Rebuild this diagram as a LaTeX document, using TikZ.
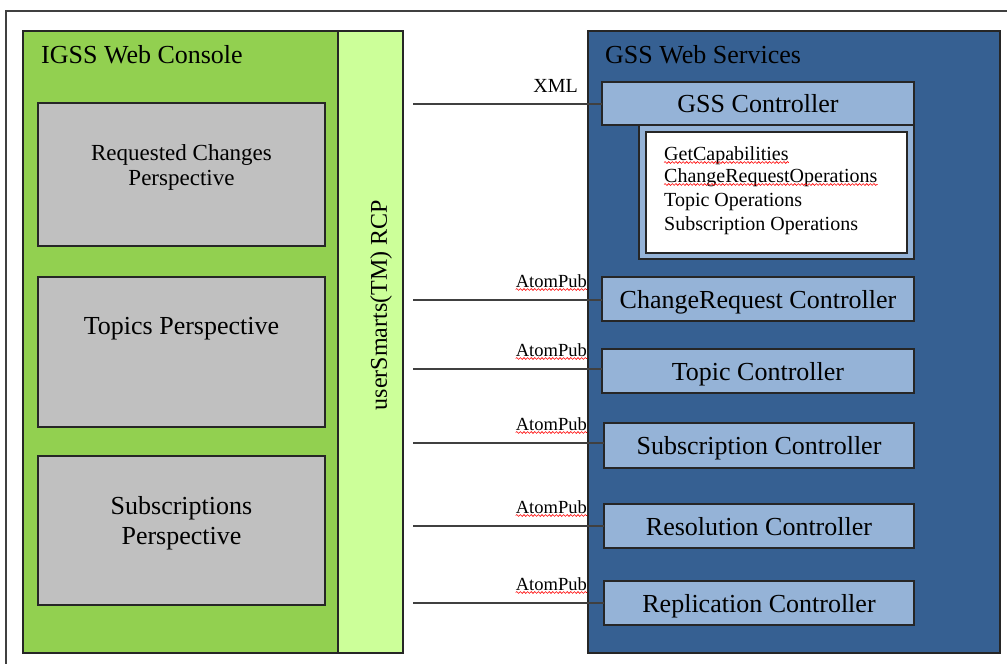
\documentclass[tikz,border=0pt]{standalone}
\usepackage{fontspec}
\setmainfont{Liberation Serif}
\usetikzlibrary{decorations.pathmorphing,calc}
\definecolor{cgreen}{HTML}{92D050}
\definecolor{clgreen}{HTML}{CCFF99}
\definecolor{cgrey}{HTML}{C0C0C0}
\definecolor{cblue}{HTML}{366092}
\definecolor{clblue}{HTML}{95B3D7}
\definecolor{cline}{HTML}{404040}
\newlength\crw
\begin{document}
\begin{tikzpicture}[x=1pt,y=-1pt,
  box/.style={draw=black!85,line width=1.2pt,anchor=north west,inner sep=0pt,outer sep=0pt},
  ctrl/.style={box,fill=clblue,minimum width=312pt,minimum height=44pt},
  persp/.style={box,fill=cgrey,minimum width=287pt},
  ptext/.style={font=\fontsize{26}{30}\selectfont,align=center,inner sep=0pt},
  ctext/.style={font=\fontsize{26}{30}\selectfont,inner sep=0pt,anchor=base},
  conn/.style={draw=cline,line width=1.7pt},
  proto/.style={font=\fontsize{18.5}{20}\selectfont,inner sep=0pt,anchor=base east},
  optext/.style={font=\fontsize{20}{22}\selectfont,inner sep=0pt,anchor=base west},
  wavy/.style={draw=red,line width=0.6pt,decorate,decoration={snake,amplitude=0.9pt,segment length=3.6pt}}
]
\useasboundingbox (0,0) rectangle (1007,664);
% outer frame
\draw[draw=black!75,line width=1.3pt] (6,664) -- (6,11) -- (1007,11);

% IGSS Web Console
\node[box,fill=cgreen,minimum width=315pt,minimum height=622pt] (igss) at (23,31) {};
\node[box,fill=clgreen,minimum width=65pt,minimum height=622pt] (rcp) at (338,31) {};
\node[font=\fontsize{26}{30}\selectfont,inner sep=0pt,anchor=base west] (igsst) at (41,63) {IGSS Web Console};
\node[font=\fontsize{24}{28}\selectfont,inner sep=0pt,rotate=90] (rcpt) at (381,305) {userSmarts(TM) RCP};

\node[persp,minimum height=143pt] (p1) at (38,103) {};
\node[persp,minimum height=150pt] (p2) at (38,277) {};
\node[persp,minimum height=149pt] (p3) at (38,456) {};
\node[ptext,font=\fontsize{23}{25}\selectfont] (p1t) at ($(p1.center)+(0,-7)$) {Requested Changes\\Perspective};
\node[ptext] (p2t) at ($(p2.center)+(0,-23)$) {Topics Perspective};
\node[ptext] (p3t) at ($(p3.center)+(0,-7)$) {Subscriptions\\Perspective};

% GSS Web Services
\node[box,fill=cblue,minimum width=412pt,minimum height=622pt] (gss) at (588,31) {};
\node[font=\fontsize{26}{30}\selectfont,inner sep=0pt,anchor=base west] (gsst) at (605,63) {GSS Web Services};

\node[ctrl,minimum height=43pt] (gc) at (602,82) {};
\node[ctext] (gct) at ($(gc.center)+(0,9)$) {GSS Controller};
\node[box,fill=clblue,minimum width=275pt,minimum height=134pt] (ops) at (639,125) {};
\node[box,fill=white,minimum width=261pt,minimum height=121pt] (opsw) at (646,132) {};
\node[optext] (o1) at (664,160) {GetCapabilities};
\node[optext] (o2) at (664,182) {ChangeRequestOperations};
\node[optext] (o3) at (664,206) {Topic Operations};
\node[optext] (o4) at (664,230) {Subscription Operations};
\draw[wavy] ([yshift=-2.5pt]o1.base west) -- ([yshift=-2.5pt]o1.base east);
\draw[wavy] ([yshift=-2.5pt]o2.base west) -- ([yshift=-2.5pt]o2.base east);

\node[ctrl] (cr) at (602,277) {};
\node[ctext] (crt) at ($(cr.center)+(0,9)$) {ChangeRequest Controller};
\settowidth\crw{\fontsize{26}{30}\selectfont ChangeRequest}
\draw[wavy] ([yshift=-3pt]crt.base west) -- ++(\crw,0pt);

\node[ctrl] (tc) at (602,349) {};
\node[ctext] (tct) at ($(tc.center)+(0,9)$) {Topic Controller};
\node[ctrl,minimum width=310pt,minimum height=45pt] (sc) at (604,423) {};
\node[ctext] (sct) at ($(sc.center)+(0,9)$) {Subscription Controller};
\node[ctrl,minimum width=310pt] (rc) at (604,504) {};
\node[ctext] (rct) at ($(rc.center)+(0,9)$) {Resolution Controller};
\node[ctrl,minimum width=310pt] (pc) at (604,581) {};
\node[ctext] (pct) at ($(pc.center)+(0,9)$) {Replication Controller};

% connectors
\coordinate (c0) at (413,104);
\coordinate (c1) at (413,300);
\coordinate (c2) at (413,369);
\coordinate (c3) at (413,443);
\coordinate (c4) at (413,526);
\coordinate (c5) at (413,603);
\draw[conn] (c0) -- (c0 -| gc.west);
\draw[conn] (c1) -- (c1 -| cr.west);
\draw[conn] (c2) -- (c2 -| tc.west);
\draw[conn] (c3) -- (c3 -| sc.west);
\draw[conn] (c4) -- (c4 -| rc.west);
\draw[conn] (c5) -- (c5 -| pc.west);

\node[proto,font=\fontsize{20}{22}\selectfont] (l0) at (578,92) {XML};
\node[proto] (l1) at (587,287) {AtomPub};
\node[proto] (l2) at (587,356) {AtomPub};
\node[proto] (l3) at (587,430) {AtomPub};
\node[proto] (l4) at (587,513) {AtomPub};
\node[proto] (l5) at (587,590) {AtomPub};
\foreach \l in {l1,l2,l3,l4,l5}{
  \draw[wavy] ([yshift=-2.5pt]\l.base west) -- ([yshift=-2.5pt]\l.base east);
}
\end{tikzpicture}
\end{document}
